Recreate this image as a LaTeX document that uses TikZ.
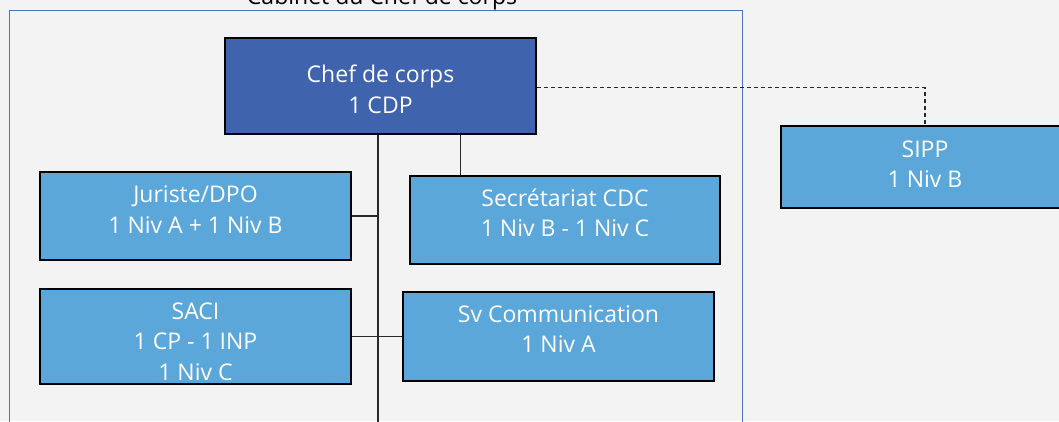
\documentclass[tikz,border=0pt]{standalone}
\usepackage{fontspec}
\setmainfont{Open Sans}
\definecolor{bgc}{RGB}{242,243,242}
\definecolor{lightbox}{RGB}{91,167,218}
\definecolor{darkbox}{RGB}{63,99,173}
\definecolor{framec}{RGB}{79,113,190}
\definecolor{linec}{RGB}{40,40,40}
\begin{document}
\begin{tikzpicture}[x=1pt,y=-1pt,
  unitbox/.style={draw=black, line width=2.5pt, fill=lightbox, inner sep=0pt},
  chefbox/.style={unitbox, fill=darkbox},
  unittext/.style={text=white, align=center, inner sep=0pt, font=\fontsize{23}{30.5}\selectfont},
  conn/.style={draw=linec, line width=1.3pt},
  dashconn/.style={draw=linec, line width=1.3pt, dash pattern=on 4pt off 3pt}]
\useasboundingbox (0,0) rectangle (1059,421);
\fill[bgc] (0,0) rectangle (1059,421);
\draw[framec, line width=1pt] (9,10) rectangle (742,440);
\node[anchor=base, inner sep=0pt, text=black, font=\fontsize{23}{28}\selectfont] (title) at (382,4.5) {Cabinet du Chef de corps};

\node[chefbox, minimum width=311pt, minimum height=96pt] (chef) at (380.5,86) {};
\node[unittext] (chefT) at (380.5,89.5) {Chef de corps\\1 CDP};

\node[unitbox, minimum width=311pt, minimum height=88pt] (jur) at (195.5,216) {};
\node[unittext] (jurT) at (195.5,209.5) {Juriste/DPO\\1 Niv A + 1 Niv B};

\node[unitbox, minimum width=310pt, minimum height=88pt] (sec) at (565,220) {};
\node[unittext] (secT) at (565,213) {Secrétariat CDC\\1 Niv B - 1 Niv C};

\node[unitbox, minimum width=311pt, minimum height=95pt] (saci) at (195.5,336.5) {};
\node[unittext] (saciT) at (195.5,341.5) {SACI\\1 CP - 1 INP\\1 Niv C};

\node[unitbox, minimum width=311pt, minimum height=89pt] (comm) at (558.5,336.5) {};
\node[unittext] (commT) at (558.5,329) {Sv Communication\\1 Niv A};

\node[unitbox, minimum width=288pt, minimum height=82pt] (sipp) at (925,167) {};
\node[unittext] (sippT) at (925,164) {SIPP\\1 Niv B};

\coordinate (vbot) at (378,425);
\coordinate (vsec) at (460.5,0);
\begin{scope}[on background layer/.style={}]
\end{scope}
\draw[conn] (chef.south -| vbot) -- (vbot);
\draw[conn] (chef.south -| vsec) -- (sec.north -| vsec);
\draw[conn] (jur.east) -- (jur.east -| vbot);
\draw[conn] (saci.east) -- (comm.west);
\draw[dashconn] (chef.east |- 0,87.5) -- (sipp.north |- 0,87.5) -- (sipp.north);
\end{tikzpicture}
\end{document}
